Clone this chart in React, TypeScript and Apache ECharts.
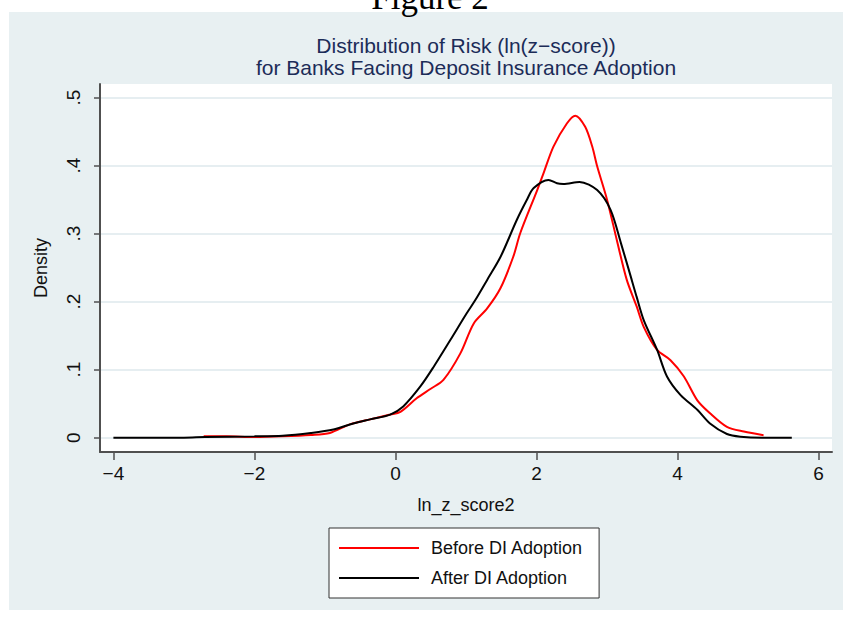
import React, { useEffect, useRef } from "react";
import * as echarts from "echarts";

// ---- data ----
const beforeX = [
  -2.72, -2.4, -2.0, -1.6, -1.2, -0.93, -0.64, -0.36, -0.075, 0.07, 0.3, 0.5, 0.68,
  0.92, 1.11, 1.3, 1.49, 1.67, 1.77, 2.01, 2.1, 2.24, 2.43, 2.55, 2.69, 2.79, 2.86,
  3.0, 3.14, 3.28, 3.42, 3.52, 3.71, 3.9, 4.09, 4.28, 4.46, 4.7, 4.94, 5.22,
];
const beforeY = [
  0.002, 0.002, 0.001, 0.002, 0.004, 0.007, 0.02, 0.027, 0.034, 0.038, 0.058, 0.072, 0.085,
  0.124, 0.168, 0.19, 0.22, 0.266, 0.301, 0.364, 0.389, 0.428, 0.462, 0.4735, 0.457, 0.428, 0.399,
  0.35, 0.29, 0.232, 0.193, 0.163, 0.129, 0.114, 0.09, 0.055, 0.036, 0.016, 0.009, 0.0035,
];

const afterX = [
  -4.0, -3.5, -3.0, -2.7, -2.0, -1.6, -1.2, -0.88, -0.6, -0.36, -0.075, 0.11, 0.35, 0.54,
  0.78, 1.01, 1.13, 1.3, 1.49, 1.72, 1.86, 1.96, 2.17, 2.29, 2.38, 2.61, 2.86, 3.05,
  3.2, 3.35, 3.42, 3.52, 3.71, 3.85, 4.04, 4.28, 4.46, 4.7, 4.89, 5.2, 5.62,
];
const afterY = [
  0.0, 0.0, 0.0, 0.001, 0.002, 0.003, 0.007, 0.012, 0.021, 0.027, 0.034, 0.046, 0.075, 0.104,
  0.144, 0.183, 0.202, 0.232, 0.266, 0.32, 0.349, 0.367, 0.379, 0.374, 0.373, 0.376, 0.364, 0.335,
  0.285, 0.232, 0.207, 0.173, 0.129, 0.09, 0.063, 0.041, 0.021, 0.0055, 0.0015, 0.0, 0.0,
];

const xTicks = [-4, -2, 0, 2, 4, 6];
const yTicks = [0, 0.1, 0.2, 0.3, 0.4, 0.5];
const seriesNames = ["Before DI Adoption", "After DI Adoption"];

const FONT = "'Liberation Sans', Arial, Helvetica, sans-serif";

function zip(xs: number[], ys: number[]) {
  return xs.map((x, i) => [x, ys[i]]);
}

export default function App() {
  const ref = useRef<HTMLDivElement>(null);

  useEffect(() => {
    if (!ref.current) return;
    const chart = echarts.init(ref.current, undefined, { renderer: "svg" });
    const option: any = {
      animation: false,
      backgroundColor: "#ffffff",
      graphic: [
        {
          type: "rect",
          z: -100,
          silent: true,
          shape: { x: 9, y: 12, width: 834, height: 598 },
          style: { fill: "#e8f0f2" },
        },
        {
          type: "text",
          z: 10,
          x: 430,
          y: 15,
          style: {
            text: "Figure 2",
            fontFamily: "'Liberation Serif', 'DejaVu Serif', serif",
            fontSize: 35,
            fill: "#000",
            align: "center",
            verticalAlign: "bottom",
          },
        },
      ],
      title: {
        text:
          "Distribution of Risk (ln(z\u2212score))\nfor Banks Facing Deposit Insurance Adoption",
        left: 466,
        top: 34,
        padding: 0,
        textAlign: "center",
        textStyle: {
          fontFamily: FONT,
          fontSize: 21,
          lineHeight: 22,
          fontWeight: "normal",
          color: "#1c2c58",
        },
      },
      grid: {
        left: 100,
        right: 11,
        top: 84,
        bottom: 165,
        show: true,
        backgroundColor: "#ffffff",
        borderWidth: 0,
      },
      legend: {
        orient: "vertical",
        left: 329,
        top: 528,
        padding: [10, 16, 10, 10],
        icon: "rect",
        itemWidth: 80,
        itemHeight: 2,
        itemGap: 10,
        backgroundColor: "#ffffff",
        borderColor: "#333333",
        borderWidth: 1,
        borderRadius: 0,
        data: seriesNames,
        textStyle: {
          fontFamily: FONT,
          fontSize: 18,
          lineHeight: 20,
          color: "#111111",
          padding: [0, 0, 0, 7],
        },
      },
      xAxis: {
        type: "value",
        min: -4.19,
        max: 6.19,
        name: "ln_z_score2",
        nameLocation: "middle",
        nameGap: 44,
        nameTextStyle: { fontFamily: FONT, fontSize: 18, color: "#111111" },
        axisLine: { show: true, onZero: false, lineStyle: { color: "#505050", width: 2 } },
        axisTick: {
          show: true,
          length: 8,
          customValues: xTicks,
          lineStyle: { color: "#505050", width: 1.5 },
        },
        axisLabel: {
          customValues: xTicks,
          margin: 12,
          fontFamily: FONT,
          fontSize: 19,
          color: "#111111",
          formatter: (v: number) => (v < 0 ? "\u2212" + Math.abs(v) : String(v)),
        },
        splitLine: { show: false },
      },
      yAxis: {
        type: "value",
        min: -0.021,
        max: 0.52,
        name: "Density",
        nameLocation: "middle",
        nameGap: 50,
        nameRotate: 90,
        nameTextStyle: { fontFamily: FONT, fontSize: 18, color: "#111111" },
        axisLine: { show: true, onZero: false, lineStyle: { color: "#505050", width: 2 } },
        axisTick: {
          show: true,
          length: 6,
          customValues: yTicks,
          lineStyle: { color: "#505050", width: 1.5 },
        },
        axisLabel: {
          customValues: yTicks,
          rotate: 90,
          margin: 17,
          fontFamily: FONT,
          fontSize: 19,
          color: "#111111",
          formatter: (v: number) =>
            v === 0 ? "0" : "." + String(Math.round(v * 10)),
        },
        splitLine: {
          show: true,
          lineStyle: { color: "#e6eef1", width: 2 },
        },
      },
      series: [
        {
          name: seriesNames[0],
          type: "line",
          data: zip(beforeX, beforeY),
          symbol: "none",
          smooth: 0.3,
          lineStyle: { color: "#ff0000", width: 2 },
          itemStyle: { color: "#ff0000" },
          z: 3,
        },
        {
          name: seriesNames[1],
          type: "line",
          data: zip(afterX, afterY),
          symbol: "none",
          smooth: 0.3,
          lineStyle: { color: "#000000", width: 2 },
          itemStyle: { color: "#000000" },
          z: 4,
        },
      ],
    };
    chart.setOption(option);
    return () => chart.dispose();
  }, []);

  return (
    <div
      ref={ref}
      style={{ position: "absolute", left: 0, top: 0, width: 843, height: 617 }}
    />
  );
}
